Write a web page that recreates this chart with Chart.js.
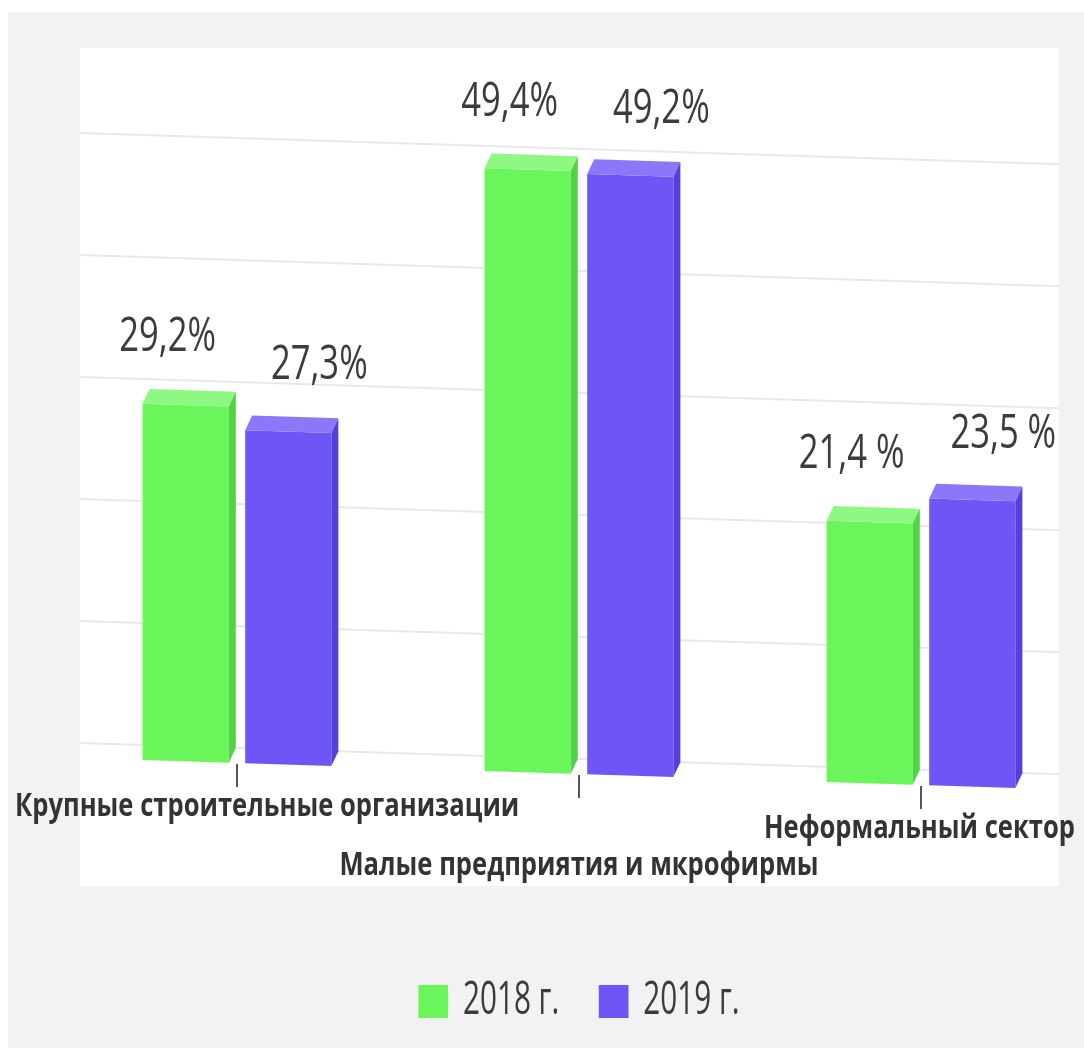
<!DOCTYPE html>
<html lang="ru">
<head>
<meta charset="utf-8">
<title>Структура занятости в строительстве</title>
<script src="https://cdn.jsdelivr.net/npm/chart.js"></script>
<style>
  html, body { margin: 0; padding: 0; background: #fff; }
  #wrap { position: relative; width: 1084px; height: 1048px; }
</style>
</head>
<body>
<div id="wrap"><canvas id="myChart"></canvas></div>
<script>
const categories = ['Крупные строительные организации', 'Малые предприятия и мкрофирмы', 'Неформальный сектор'];
const share2018 = [29.2, 49.4, 21.4];
const share2019 = [27.3, 49.2, 23.5];
const years = ['2018 г.', '2019 г.'];
const percentSign = ['%', '%', ' %'];

const GREEN = { front: '#6af55a', top: '#8ef882', side: '#4fd444' };
const PURPLE = { front: '#6d56f5', top: '#8b78f9', side: '#5540df' };
const faces = [GREEN, PURPLE];
const INK = '#3c3c3c';

// the whole picture leans down to the right a little
const LEAN = 0.032;
const LEAN_X0 = 80;
// depth of the fake 3d boxes
const DX = 7, DY = -15;
const PLOT = { left: 80, top: 48, right: 1059, bottom: 886 };
const LEGEND_SQUASH = 0.66;
const labelShift = [-18, 31];

const lean = (x, y) => y + LEAN * (x - LEAN_X0);
const pctText = (v, i) => v.toFixed(1).replace('.', ',') + percentSign[i];

const squashedText = (ctx, text, x, y, font, squash, color) => {
    ctx.save();
    ctx.translate(x, y);
    ctx.scale(squash, 1);
    ctx.font = font;
    ctx.textAlign = 'center';
    ctx.textBaseline = 'middle';
    ctx.fillStyle = color;
    ctx.fillText(text, 0, 0);
    ctx.restore();
};

const poly = (ctx, pts, color) => {
    ctx.beginPath();
    ctx.moveTo(pts[0][0], pts[0][1]);
    pts.slice(1).forEach(p => ctx.lineTo(p[0], p[1]));
    ctx.closePath();
    ctx.fillStyle = color;
    ctx.fill();
};

const stage = {
    id: 'stage',
    beforeDraw(chart) {
        const ctx = chart.ctx;
        ctx.save();
        ctx.fillStyle = '#ffffff';
        ctx.fillRect(0, 0, chart.width, chart.height);
        ctx.fillStyle = '#f2f2f2';
        ctx.fillRect(8, 12, chart.width - 8, chart.height - 12);
        ctx.fillStyle = '#ffffff';
        ctx.fillRect(PLOT.left, PLOT.top, PLOT.right - PLOT.left, PLOT.bottom - PLOT.top);
        ctx.restore();
        // legend font is a narrow face, squeeze the legend layer
        const lg = chart.legend;
        const cx = (lg.left + lg.right) / 2;
        ctx.save();
        ctx.translate(cx, 0);
        ctx.scale(LEGEND_SQUASH, 1);
        ctx.translate(-cx, 0);
    },
    beforeDatasetsDraw(chart) {
        const ctx = chart.ctx;
        const yScale = chart.scales.y;
        ctx.restore();
        ctx.save();
        ctx.beginPath();
        ctx.rect(PLOT.left, PLOT.top, PLOT.right - PLOT.left, PLOT.bottom - PLOT.top);
        ctx.clip();
        ctx.transform(1, LEAN, 0, 1, 0, -LEAN * LEAN_X0);
        // grid sits on the back wall
        ctx.strokeStyle = '#e8e8e8';
        ctx.lineWidth = 2;
        for (let v = yScale.min; v <= yScale.max; v += 10) {
            const y = yScale.getPixelForValue(v) + DY;
            ctx.beginPath();
            ctx.moveTo(PLOT.left, y);
            ctx.lineTo(PLOT.right, y);
            ctx.stroke();
        }
    },
    afterDatasetsDraw(chart) {
        const ctx = chart.ctx;
        const xScale = chart.scales.x;
        const yScale = chart.scales.y;
        const base = yScale.getPixelForValue(0);

        chart.data.datasets.forEach((ds, di) => {
            chart.getDatasetMeta(di).data.forEach(bar => {
                const {x, y, base: b, width} = bar.getProps(['x', 'y', 'base', 'width'], true);
                const L = x - width / 2, R = x + width / 2;
                poly(ctx, [[L, y], [R, y], [R + DX, y + DY], [L + DX, y + DY]], faces[di].top);
                poly(ctx, [[R, y], [R + DX, y + DY], [R + DX, b + DY], [R, b]], faces[di].side);
            });
        });

        ctx.strokeStyle = '#555555';
        ctx.lineWidth = 2;
        categories.forEach((c, i) => {
            const x = xScale.getPixelForValue(i);
            ctx.beginPath();
            ctx.moveTo(x, base + 1);
            ctx.lineTo(x, base + 24);
            ctx.stroke();
        });
        ctx.restore();

        // value labels
        chart.data.datasets.forEach((ds, di) => {
            chart.getDatasetMeta(di).data.forEach((bar, i) => {
                const {x, y} = bar.getProps(['x', 'y'], true);
                const cx = x + labelShift[di];
                squashedText(ctx, pctText(ds.data[i], i), cx, lean(cx, y + DY - 52),
                    '400 48px "Open Sans"', 0.72, INK);
            });
        });

        // category names, staggered in two rows
        const catFont = '700 32px "Open Sans"';
        const catSquash = 0.80;
        ctx.font = catFont;
        categories.forEach((c, i) => {
            const tx = xScale.getPixelForValue(i);
            const w = ctx.measureText(c).width * catSquash;
            let cx = Math.max(tx, 15 + w / 2);
            cx = Math.min(cx, chart.width - 9 - w / 2);
            const row = i % 2;
            squashedText(ctx, c, cx, lean(tx, base) + 44 + row * 48, catFont, catSquash, '#333333');
        });
    }
};

const ctx = document.getElementById('myChart');
new Chart(ctx, {
    type: 'bar',
    data: {
        labels: categories,
        datasets: [{
            label: years[0],
            data: share2018,
            backgroundColor: GREEN.front,
            borderColor: GREEN.front,
            borderWidth: 0,
            clip: false,
        }, {
            label: years[1],
            data: share2019,
            backgroundColor: PURPLE.front,
            borderColor: PURPLE.front,
            borderWidth: 0,
            clip: false,
        }]
    },
    options: {
        responsive: true,
        maintainAspectRatio: false,
        animation: false,
        categoryPercentage: 0.6,
        barPercentage: 0.84,
        layout: {
            // x axis runs tick to tick, first and last category sit on the edges
            padding: { top: 26, left: 237, right: 163, bottom: 14 }
        },
        plugins: {
            tooltip: { enabled: false },
            legend: {
                position: 'bottom',
                labels: {
                    color: INK,
                    font: { family: '"Open Sans"', size: 45 },
                    boxWidth: 45,
                    boxHeight: 33,
                    padding: 60,
                }
            }
        },
        scales: {
            x: {
                offset: false,
                grid: { display: false },
                border: { display: false },
                ticks: { display: false },
                afterFit: (scale) => { scale.height = 161; },
            },
            y: {
                display: false,
                min: 0,
                max: 60,
            }
        }
    },
    plugins: [stage]
});
</script>
</body>
</html>
